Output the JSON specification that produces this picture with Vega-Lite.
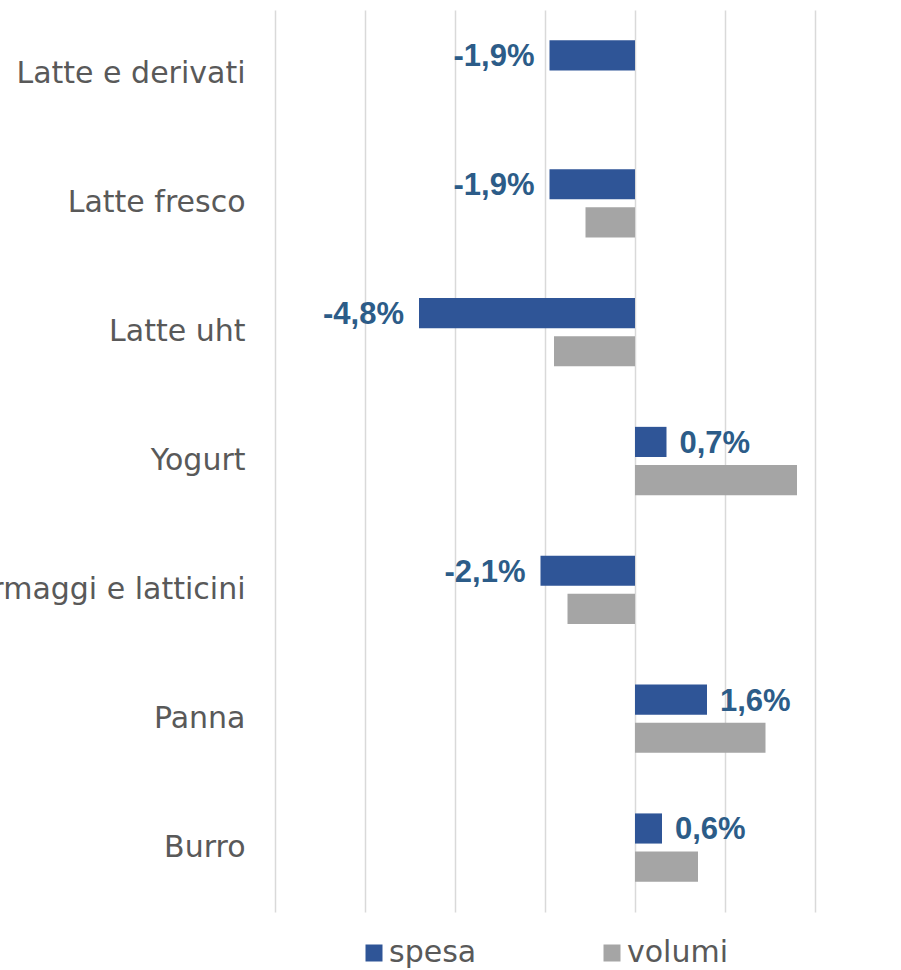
{
  "$schema": "https://vega.github.io/schema/vega-lite/v6.json",
  "width": 540,
  "height": 902,
  "autosize": {"type": "none"},
  "padding": {"left": 275, "top": 10, "right": 86, "bottom": 58},
  "background": "white",
  "config": {
    "view": {"stroke": null},
    "locale": {"number": {"decimal": ",", "thousands": ".", "grouping": [3], "currency": ["", " €"], "minus": "-"}}
  },
  "data": {
    "values": [
      {"categoria": "Latte e derivati", "serie": "spesa", "valore": -0.019},
      {"categoria": "Latte fresco", "serie": "spesa", "valore": -0.019},
      {"categoria": "Latte fresco", "serie": "volumi", "valore": -0.011},
      {"categoria": "Latte uht", "serie": "spesa", "valore": -0.048},
      {"categoria": "Latte uht", "serie": "volumi", "valore": -0.018},
      {"categoria": "Yogurt", "serie": "spesa", "valore": 0.007},
      {"categoria": "Yogurt", "serie": "volumi", "valore": 0.036},
      {"categoria": "Formaggi e latticini", "serie": "spesa", "valore": -0.021},
      {"categoria": "Formaggi e latticini", "serie": "volumi", "valore": -0.015},
      {"categoria": "Panna", "serie": "spesa", "valore": 0.016},
      {"categoria": "Panna", "serie": "volumi", "valore": 0.029},
      {"categoria": "Burro", "serie": "spesa", "valore": 0.006},
      {"categoria": "Burro", "serie": "volumi", "valore": 0.014}
    ]
  },
  "encoding": {
    "y": {
      "field": "categoria",
      "type": "nominal",
      "sort": ["Latte e derivati", "Latte fresco", "Latte uht", "Yogurt", "Formaggi e latticini", "Panna", "Burro"],
      "scale": {"paddingInner": 0.47, "paddingOuter": 0.235},
      "title": null,
      "axis": {
        "domain": false,
        "ticks": false,
        "grid": false,
        "labelPadding": 30,
        "labelFont": "DejaVu Sans",
        "labelFontSize": 30,
        "labelColor": "#595959",
        "labelLimit": 400
      }
    },
    "yOffset": {
      "field": "serie",
      "type": "nominal",
      "sort": ["spesa", "volumi"],
      "scale": {"domain": ["spesa", "volumi"], "paddingInner": 0.21, "paddingOuter": 0}
    },
    "x": {
      "field": "valore",
      "type": "quantitative",
      "scale": {"domain": [-0.08, 0.04], "nice": false, "zero": false},
      "title": null,
      "axis": {
        "values": [-0.08, -0.06, -0.04, -0.02, 0, 0.02, 0.04],
        "labels": false,
        "ticks": false,
        "domain": false,
        "grid": true,
        "gridColor": "#D9D9D9",
        "gridWidth": 1.5
      }
    }
  },
  "layer": [
    {
      "mark": {"type": "bar"},
      "encoding": {
        "color": {
          "field": "serie",
          "type": "nominal",
          "scale": {"domain": ["spesa", "volumi"], "range": ["#2F5597", "#A5A5A5"]},
          "legend": {
            "title": null,
            "orient": "none",
            "direction": "horizontal",
            "legendX": 84,
            "legendY": 928,
            "symbolType": "square",
            "symbolSize": 289,
            "symbolStrokeWidth": 0,
            "labelFont": "DejaVu Sans",
            "labelFontSize": 30,
            "labelColor": "#595959",
            "labelOffset": 0,
            "columnPadding": 120
          }
        }
      }
    },
    {
      "transform": [{"filter": "datum.serie === 'spesa' && datum.valore < 0"}],
      "mark": {"type": "text", "align": "right", "baseline": "middle", "dx": -15, "dy": 2, "font": "Liberation Sans", "fontWeight": "bold", "fontSize": 31, "color": "#2C5C88"},
      "encoding": {"text": {"field": "valore", "type": "quantitative", "format": ".1%"}}
    },
    {
      "transform": [{"filter": "datum.serie === 'spesa' && datum.valore >= 0"}],
      "mark": {"type": "text", "align": "left", "baseline": "middle", "dx": 13, "dy": 2, "font": "Liberation Sans", "fontWeight": "bold", "fontSize": 31, "color": "#2C5C88"},
      "encoding": {"text": {"field": "valore", "type": "quantitative", "format": ".1%"}}
    }
  ]
}
